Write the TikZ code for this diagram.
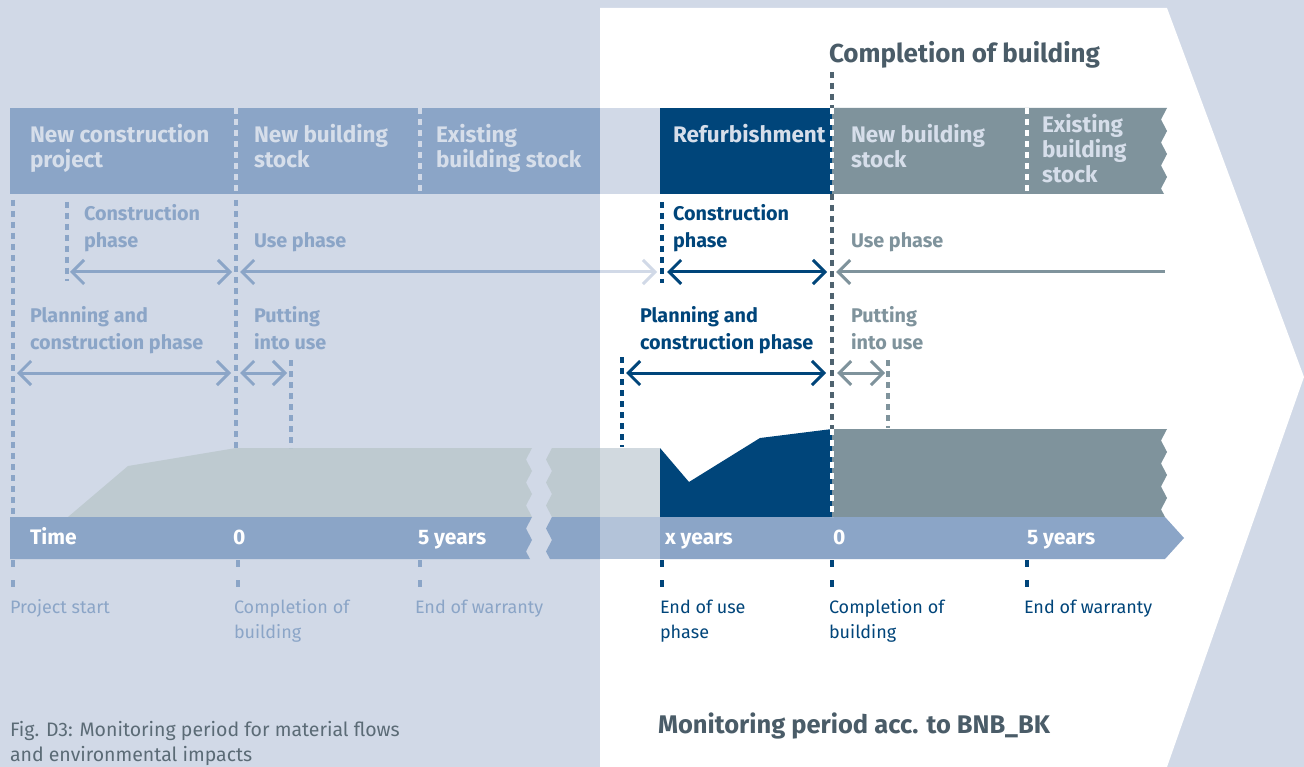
\documentclass[tikz,border=0pt]{standalone}
\usepackage{fontspec}
\setmainfont{Fira Sans}
\usetikzlibrary{arrows.meta}
\definecolor{bgc}{HTML}{D1D9E7}
\definecolor{hdrB}{HTML}{8BA5C7}
\definecolor{tlW}{HTML}{B3C3D9}
\definecolor{areaL}{HTML}{BECAD0}
\definecolor{areaW}{HTML}{D1D9DF}
\definecolor{dkblue}{HTML}{00457A}
\definecolor{greyc}{HTML}{7F939C}
\definecolor{slate}{HTML}{4A5C68}
\definecolor{dashgrey}{HTML}{4F6370}
\definecolor{captc}{HTML}{5B6B76}
\definecolor{hdrtxt}{HTML}{D6DEEA}
\newcommand\mytxt[1]{\vtop{\halign{##\hfil\cr#1\crcr}}}
\tikzset{
  txt/.style={anchor=base west, inner sep=0pt, outer sep=0pt},
  hdr/.style={txt, text=hdrtxt, font=\bfseries\fontsize{22.5}{25}\selectfont},
  mid/.style={txt, font=\bfseries\fontsize{19.8}{27}\selectfont},
  tlt/.style={txt, text=white, font=\bfseries\fontsize{21}{25}\selectfont},
  bot/.style={txt, font=\fontsize{18}{25}\selectfont},
  vd/.style={line width=3.5pt, dash pattern=on 6pt off 5pt},
  tick/.style={line width=3.5pt, dash pattern=on 7pt off 13pt},
  arr/.style={line width=3pt},
  >={Straight Barb[length=12pt,width=24pt]}
}
\begin{document}
\begin{tikzpicture}[x=1pt,y=-1pt]
\useasboundingbox (0,0) rectangle (1304,767);
% background
\fill[bgc] (0,0) rectangle (1304,767);
\fill[white] (600,8) -- (1167,8) -- (1304,377) -- (1167,767) -- (600,767) -- cycle;
% header bars
\fill[hdrB] (10,108) rectangle (600,194);
\fill[bgc] (600,108) rectangle (660,194);
\fill[dkblue] (660,108) rectangle (832,194);
\fill[greyc] (832,108) -- (1167,108) -- (1161,119.5) -- (1167,131) -- (1161,142.5) -- (1167,154) -- (1161,165.5) -- (1167,177) -- (1161,188.5) -- (1164,194) -- (832,194) -- cycle;
% area chart
\fill[areaL] (68,517) -- (128,466) -- (236,448) -- (532,448) -- (526,459.5) -- (532,471) -- (526,482.5) -- (532,494) -- (526,505.5) -- (532,517) -- cycle;
\fill[areaL] (552,448) -- (600,448) -- (600,517) -- (552,517) -- (546,505.5) -- (552,494) -- (546,482.5) -- (552,471) -- (546,459.5) -- cycle;
\fill[areaW] (600,448) rectangle (660,517);
\fill[dkblue] (660,448) -- (689,482) -- (760,438) -- (832,429) -- (832,517) -- (660,517) -- cycle;
\fill[greyc] (832,429) -- (1167,429) -- (1161,440.5) -- (1167,452) -- (1161,463.5) -- (1167,475) -- (1161,486.5) -- (1167,498) -- (1161,509.5) -- (1165,517) -- (832,517) -- cycle;
% timeline
\fill[hdrB] (10,517) -- (532,517) -- (526,528.5) -- (532,540) -- (526,551.5) -- (530,559) -- (10,559) -- cycle;
\fill[hdrB] (552,517) -- (600,517) -- (600,559) -- (550,559) -- (546,551.5) -- (552,540) -- (546,528.5) -- cycle;
\fill[tlW] (600,517) rectangle (660,559);
\fill[hdrB] (660,517) -- (1165,517) -- (1184,538) -- (1165,559) -- (660,559) -- cycle;

% coordinates
\coordinate (h1t) at (236,108); \coordinate (h1b) at (236,194);
\coordinate (h2t) at (420,108); \coordinate (h2b) at (420,194);
\coordinate (h3t) at (1027,108); \coordinate (h3b) at (1027,194);
\coordinate (c0a) at (832,72); \coordinate (c0b) at (832,108);
\coordinate (c0c) at (832,194); \coordinate (c0d) at (832,429);
\coordinate (c0e) at (832,517);
% header dividers
\draw[vd, bgc] (h1t) -- (h1b);
\draw[vd, bgc] (h2t) -- (h2b);
\draw[vd, white] (h3t) -- (h3b);
\draw[vd, dashgrey] (c0a) -- (c0b);
\draw[vd, white] (c0b) -- (c0c);
\draw[vd, dashgrey] (c0c) -- (c0d);
\draw[vd, white] (c0d) -- (c0e);

% left vertical dashed lines
\coordinate (v1t) at (13,200); \coordinate (v1b) at (13,516);
\coordinate (v2t) at (67,202); \coordinate (v2b) at (67,281);
\coordinate (v3t) at (236,200); \coordinate (v3b) at (236,448);
\coordinate (v4t) at (291,360); \coordinate (v4b) at (291,448);
\draw[vd, hdrB] (v1t) -- (v1b);
\draw[vd, hdrB] (v2t) -- (v2b);
\draw[vd, hdrB] (v3t) -- (v3b);
\draw[vd, hdrB] (v4t) -- (v4b);
% right vertical dashed lines
\coordinate (w1t) at (662,202); \coordinate (w1b) at (662,283);
\coordinate (w2t) at (622,357); \coordinate (w2b) at (622,447);
\coordinate (w3t) at (888,360); \coordinate (w3b) at (888,428);
\draw[vd, dkblue] (w1t) -- (w1b);
\draw[vd, dkblue] (w2t) -- (w2b);
\draw[vd, greyc] (w3t) -- (w3b);

% ticks below timeline
\foreach \n/\x/\c in {t1/13/hdrB, t2/238/hdrB, t3/420/hdrB, t4/662/dkblue, t5/832/dkblue, t6/1027/dkblue}{
  \coordinate (\n a) at (\x,560); \coordinate (\n b) at (\x,592);
  \draw[tick, \c] (\n a) -- (\n b);
}

% arrows left
\coordinate (a1l) at (70,272); \coordinate (a1r) at (232,272);
\coordinate (a2l) at (240,272); \coordinate (a2m) at (600,272); \coordinate (a2r) at (657,272);
\coordinate (a3l) at (17,373); \coordinate (a3r) at (231,373);
\coordinate (a4l) at (240,373); \coordinate (a4r) at (287,373);
\draw[arr, hdrB, <->] (a1l) -- (a1r);
\draw[arr, hdrB, <-] (a2l) -- (a2m);
\draw[arr, bgc, ->] (a2m) -- (a2r);
\draw[arr, hdrB, <->] (a3l) -- (a3r);
\draw[arr, hdrB, <->] (a4l) -- (a4r);
% arrows right
\coordinate (b1l) at (667,272); \coordinate (b1r) at (827,272);
\coordinate (b2l) at (836,272); \coordinate (b2r) at (1165,272);
\coordinate (b3l) at (626,373); \coordinate (b3r) at (826,373);
\coordinate (b4l) at (837,373); \coordinate (b4r) at (885,373);
\draw[arr, dkblue, <->] (b1l) -- (b1r);
\draw[arr, greyc, <-] (b2l) -- (b2r);
\draw[arr, dkblue, <->] (b3l) -- (b3r);
\draw[arr, greyc, <->] (b4l) -- (b4r);

% header texts
\node[hdr] (hA) at (30,143) {\mytxt{New construction\cr project}};
\node[hdr] (hB) at (254,143) {\mytxt{New building\cr stock}};
\node[hdr] (hC) at (436,143) {\mytxt{Existing\cr building stock}};
\node[hdr] (hD) at (673,143) {Refurbishment};
\node[hdr] (hE) at (851,143) {\mytxt{New building\cr stock}};
\node[hdr] (hF) at (1042,133) {\mytxt{Existing\cr building\cr stock}};

% title
\node[txt, text=slate, font=\bfseries\fontsize{26}{30}\selectfont] (title) at (829,63) {Completion of building};

% middle labels left
\node[mid, text=hdrB] (mA) at (84,221) {\mytxt{Construction\cr phase}};
\node[mid, text=hdrB] (mB) at (254,248) {Use phase};
\node[mid, text=hdrB] (mC) at (30,323) {\mytxt{Planning and\cr construction phase}};
\node[mid, text=hdrB] (mD) at (254,323) {\mytxt{Putting\cr into use}};
% middle labels right
\node[mid, text=dkblue] (mE) at (673,221) {\mytxt{Construction\cr phase}};
\node[mid, text=greyc] (mF) at (851,248) {Use phase};
\node[mid, text=dkblue] (mG) at (640,323) {\mytxt{Planning and\cr construction phase}};
\node[mid, text=greyc] (mH) at (851,323) {\mytxt{Putting\cr into use}};

% timeline labels
\node[tlt] (tA) at (30,544) {Time};
\node[tlt] (tB) at (233,544) {0};
\node[tlt] (tC) at (418,544) {5 years};
\node[tlt] (tD) at (665,544) {x years};
\node[tlt] (tE) at (833,544) {0};
\node[tlt] (tF) at (1027,544) {5 years};

% bottom labels
\node[bot, text=hdrB] (bA) at (10,613) {Project start};
\node[bot, text=hdrB] (bB) at (234,613) {\mytxt{Completion of\cr building}};
\node[bot, text=hdrB] (bC) at (415,613) {End of warranty};
\node[bot, text=dkblue] (bD) at (660,613) {\mytxt{End of use\cr phase}};
\node[bot, text=dkblue] (bE) at (829,613) {\mytxt{Completion of\cr building}};
\node[bot, text=dkblue] (bF) at (1024,613) {End of warranty};

% caption and subtitle
\node[txt, text=captc, font=\fontsize{19.5}{25}\selectfont] (cap) at (10,736) {\mytxt{Fig. D3: Monitoring period for material flows\cr and environmental impacts}};
\node[txt, text=slate, font=\bfseries\fontsize{25.5}{28}\selectfont] (sub) at (658,733) {Monitoring period acc. to BNB\_BK};
\end{tikzpicture}
\end{document}
